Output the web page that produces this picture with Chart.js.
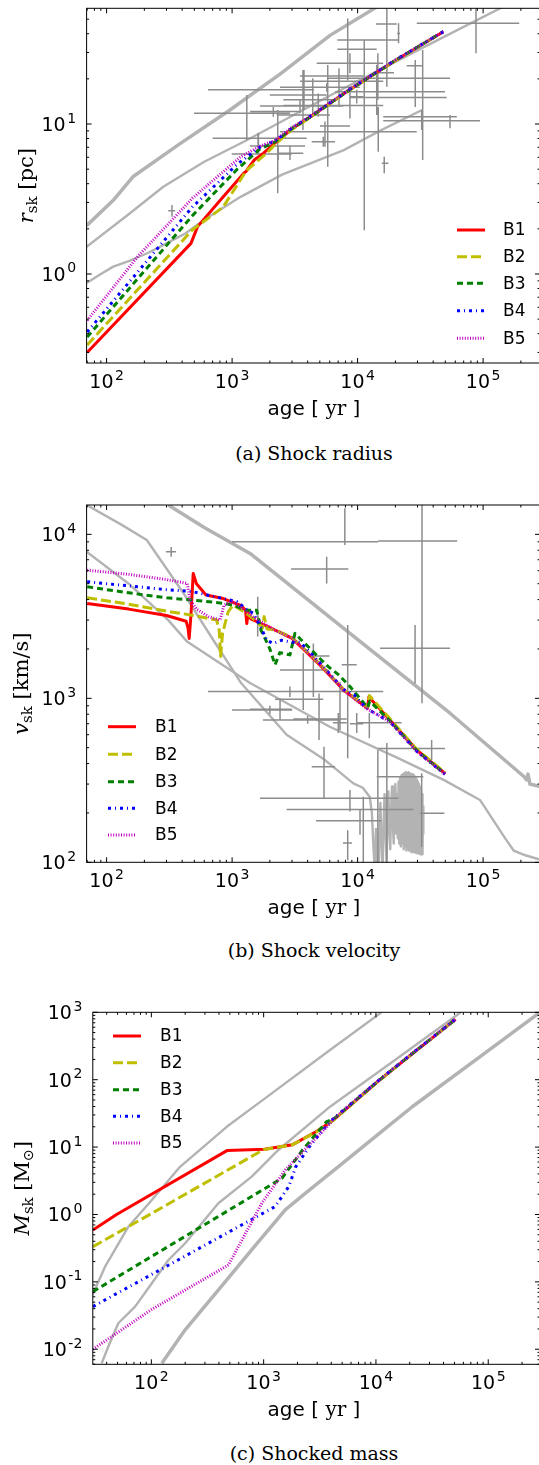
<!DOCTYPE html>
<html>
<head>
<meta charset="utf-8">
<title>Shock radius, velocity and mass</title>
<script src="https://cdn.jsdelivr.net/npm/chart.js@4.4.1/dist/chart.umd.min.js"></script>
<style>
  html, body { margin: 0; padding: 0; background: #fff; }
  body { position: relative; width: 539px; height: 1465px; overflow: hidden; }
  .panel { position: absolute; left: 0; }
  .panel canvas { display: block; }
  .caption { position: absolute; left: 0; width: 628px; text-align: center;
             font-family: "DejaVu Serif", serif; font-size: 19px; line-height: 24px; color: #000; }
</style>
</head>
<body>
<div class="panel" style="top:0px"><canvas id="radius" width="541" height="420"></canvas></div>
<div class="caption" style="top:441px">(a) Shock radius</div>
<div class="panel" style="top:489px"><canvas id="velocity" width="541" height="430"></canvas></div>
<div class="caption" style="top:938px">(b) Shock velocity</div>
<div class="panel" style="top:996px"><canvas id="mass" width="541" height="425"></canvas></div>
<div class="caption" style="top:1441px">(c) Shocked mass</div>

<script>
// ---- data: [age yr, value] ----
const runNames = ['B1', 'B2', 'B3', 'B4', 'B5'];
const xTickValues = [1e2, 1e3, 1e4, 1e5];

// (a) shock radius [pc]
const radiusB1 = [[70,0.30],[470,1.6],[531,2.07],[850,3.27],[1240,4.7],[1300,4.85],[1350,5.1],[1500,5.75],[1780,6.4],[2200,7.5],[3000,9.3],[4100,11.0],[8700,17.0],[20000,26.5],[48200,41.2]];
const radiusB2 = [[70,0.336],[480,1.96],[850,2.8],[1300,4.9],[1890,6.4],[2200,7.3],[3000,9.2],[4100,10.9],[8700,16.9],[20000,26.4],[48200,41.2]];
const radiusB3 = [[70,0.38],[483,2.45],[1100,5.0],[1660,6.8],[2200,7.6],[3000,9.35],[4100,11.0],[8700,17.0],[20000,26.6],[48200,41.3]];
const radiusB4 = [[70,0.41],[483,2.8],[1100,5.4],[1660,7.0],[2200,7.7],[3000,9.4],[4100,11.1],[8700,17.1],[20000,26.7],[48200,41.3]];
const radiusB5 = [[70,0.49],[176,1.3],[483,3.2],[1170,6.05],[1660,7.1],[2200,7.8],[3000,9.5],[4100,11.1],[8700,17.1],[20000,26.7],[48200,41.3]];
const radiusModelA = [[69.3,2.1],[113,3.1],[162,4.45],[385,7.4],[962,12.4],[1390,15.5],[2410,21.5],[6030,39],[15000,62]];
const radiusModelB = [[69.3,1.52],[150,2.5],[283,3.82],[600,5.6],[1306,7.8],[6030,15.5],[30000,31],[136000,59],[200000,70]];
const radiusModelC = [[69.3,0.87],[90,1.0],[113,1.12],[150,1.22],[213,1.38],[300,1.6],[427,1.87],[600,2.3],[1170,3.27],[2500,4.6],[7760,6.7],[15000,9.0],[32600,12.4]];
// observed remnants: [age, r, ageLo, ageHi, rLo, rHi]
const radiusObs = [
  [87800,46.9,29600,194000,29.6,62],[17100,46.4,14000,20500,17.7,62],[8340,36.3,6890,21100,19.6,50.6],
  [11300,31.5,6890,14200,1.96,36.3],[21200,40.2,20700,21800,34.5,46.9],[28800,24.5,24600,33400,13.0,26.7],
  [33000,20.2,5740,54500,5.75,31.1],[14500,22.0,13500,19500,14.5,29.6],[5780,19.3,3480,16000,5.19,24.7],
  [7110,16.4,6610,49700,13.0,23.5],[4390,15.6,2000,5670,11.2,20.2],[3740,20.9,3480,11100,12.4,22.9],
  [2310,11.5,2270,6030,3.45,12.4],[1620,7.13,1390,3810,6.38,8.67],[14200,15.0,8690,51300,11.5,24.7],
  [9840,15.2,8690,11100,13.7,16.9],[14600,8.89,2410,29600,6.54,13.0],[16300,5.47,15600,17600,4.69,6.05],
  [4860,14.5,2560,6820,11.2,16.0],[5500,9.7,5010,8690,7.06,10.4],[54500,10.5,16000,94400,9.36,11.5],
  [32400,11.2,16000,61700,9.12,12.4],[8690,25.4,4720,16000,21.8,29.6],[3480,13.2,1670,7690,11.8,14.5],
  [8690,13.3,2560,16000,10.9,16.9],[2130,12.1,1390,3480,11.2,13.0],[2890,6.38,2330,3690,5.75,7.06],
  [5330,7.62,4310,6610,7.06,8.23],[5680,17.6,2410,10400,16.4,18.7],[3670,16.9,643,4500,9.12,22.9],
  [1310,11.8,497,2890,7.82,15.6],[1610,8.03,700,3930,7.03,8.71],[2330,6.31,993,2990,5.75,7.06],
  [332,2.64,310,352,2.41,2.88]
];

// (b) shock velocity [km/s]
const velocityB1 = [[70,3790],[150,3500],[300,3200],[430,2950],[445,2700],[455,2320],[470,3200],[490,5780],[520,5000],[620,4270],[850,4060],[1170,3690],[1280,3450],[1310,2860],[1340,3350],[1410,3050],[2200,2610],[3010,2320],[5000,1600],[7760,1120],[12000,870],[12300,1020],[18100,738],[29600,484],[49700,349]];
const velocityB2 = [[70,4100],[150,3750],[300,3400],[500,3200],[753,3000],[790,2600],[810,1800],[840,2500],[930,3370],[1020,3700],[1300,3300],[1600,2900],[1750,2700],[1800,3150],[1900,2650],[2200,2620],[3010,2350],[5000,1620],[7760,1130],[12000,880],[12400,1040],[18100,750],[29600,490],[49700,352]];
const velocityB3 = [[70,4790],[150,4400],[300,4100],[480,3980],[850,3800],[1020,3700],[1300,3450],[1570,3450],[1700,2600],[1840,2300],[2000,2000],[2200,1600],[2400,1900],[2890,1840],[3170,2490],[3500,2300],[4030,2070],[5000,1750],[5840,1560],[7000,1400],[8690,1180],[12000,880],[12500,960],[18100,730],[29600,480],[49700,346]];
const velocityB4 = [[70,5140],[150,4850],[300,4600],[480,4480],[800,4100],[1090,3890],[1300,3500],[1470,3300],[1700,2700],[1890,2260],[2130,2160],[2480,2260],[3000,2200],[3480,2200],[5000,1650],[7760,1130],[9400,1050],[10500,950],[12000,860],[18100,720],[29600,475],[49700,344]];
const velocityB5 = [[70,6050],[150,5700],[300,5300],[440,5020],[460,4000],[520,3500],[650,3150],[800,3000],[830,3300],[860,3700],[1000,3900],[1300,3400],[1500,3100],[2200,2600],[3010,2330],[5000,1620],[7760,1120],[12000,860],[18100,720],[29600,475],[49700,345]];
const velocityModelA = [[310,15100],[600,11000],[1390,7650],[8690,2490],[54500,811],[210000,335],[222000,318],[228000,345],[236000,300],[284000,290]];
const velocityModelB = [[69.3,7830],[150,5000],[310,3000],[440,2210],[1390,1240],[6000,671],[20000,440],[48500,318],[94400,240],[150000,140],[175000,118],[220000,110],[284000,104]];
const velocityModelC = [[69.3,15100],[130,11500],[209,9230],[400,4500],[700,2300],[1170,1250],[2720,600],[5500,420],[9250,303],[11000,285],[12500,250],
  [13000,200],[13400,120],[13700,90],[14000,160],[14300,95],[14600,70],[14900,150],[15200,230],[15500,130],[15800,80],[16100,170],[16400,260],
  [16700,150],[17000,100],[17300,190],[17600,270],[17900,160],[18200,120],[18500,210],[18800,290],[19100,170],[19400,130],[19700,230],[20000,300],
  [20300,150],[20600,260],[20900,140],[21200,310],[21500,130],[21800,330],[22100,125],[22400,340],[22700,130],[23000,345],[23300,120],[23600,350],
  [23900,125],[24200,355],[24500,118],[24800,350],[25100,122],[25400,355],[25700,118],[26000,350],[26300,120],[26600,345],[26900,115],[27200,345],
  [27500,118],[27800,340],[28100,115],[28400,335],[28700,116],[29000,330],[29300,114],[29600,320],[29900,115],[30200,310],[30500,113],[30800,300],
  [31100,113],[31400,290],[31700,112],[32000,280],[32300,112],[32600,260],[32900,112],[33200,220],[33400,150]];
// observed remnants: [age, v, ageLo, ageHi, vLo, vHi]
const velocityObs = [
  [7910,9020,998,14600,8610,14450],[32600,9100,14600,62200,933,16000],[5670,6140,2950,8430,5020,7300],
  [8340,1600,7470,9840,431,2800],[28700,2020,15100,54500,1230,2800],[3690,1490,2410,5840,849,1880],
  [4440,1810,4310,5960,1020,2160],[7240,1100,2890,16000,641,1260],[3690,986,2200,5330,849,1180],
  [2410,857,1390,2980,738,978],[4930,747,3080,8190,557,1070],[7020,710,6370,8190,614,813],
  [9840,700,8690,11100,614,813],[12400,710,9840,22400,570,813],[17100,495,14600,49700,80,534],
  [14500,333,14200,33400,80,484],[5400,383,4310,6610,246,507],[8690,246,1670,21100,204,276],
  [11100,210,2720,27800,80,251],[10450,179,4660,15500,147,208],[32400,199,31400,49100,124,349],
  [38900,495,31400,48800,421,557],[8340,131,7650,9020,103,157],[327,7830,297,357,7300,8370],
  [1600,3130,1560,1640,2380,4170],[2890,1100,643,5490,1020,1180],[2000,849,998,3010,800,900],
  [4000,738,1760,7270,700,780]
];

// (c) shocked mass [Msun]
const massB1 = [[30.2,0.59],[49,1.0],[471,8.87],[1020,9.27],[1800,10.8],[2950,17.0],[4190,25.3],[10500,95],[21200,244],[51200,787]];
const massB2 = [[30.2,0.333],[100,1.03],[1000,9.2],[1800,10.8],[2950,16.8],[4190,25],[10500,95],[21200,244],[51200,787]];
const massB3 = [[30.2,0.0718],[100,0.237],[1455,3.44],[2220,9.06],[3640,23.9],[4190,26],[10500,96],[21200,246],[51200,790]];
const massB4 = [[30.2,0.043],[100,0.128],[1265,1.31],[1675,2.6],[1930,5.1],[2560,10.2],[3910,24],[4190,26.5],[10500,97],[21200,248],[51200,792]];
const massB5 = [[30.2,0.010],[100,0.0387],[486,0.178],[964,1.47],[1556,4.58],[2220,8.5],[3910,22.5],[4190,26],[10500,97],[21200,248],[51200,792]];
const massModelA = [[29.4,0.060],[38.7,0.168],[49.2,0.333],[62.4,0.659],[101,1.64],[180,5.1],[469,20],[1000,51],[3900,276],[11200,1000]];
const massModelB = [[36.1,0.0062],[41.4,0.011],[50.8,0.0243],[71.6,0.0429],[101,0.0953],[142,0.211],[200,0.374],[395,1.47],[783,3.64],[1352,9.06],[3900,39.8],[15000,200],[56900,1000]];
const massModelC = [[124,0.0062],[200,0.0194],[396,0.076],[785,0.30],[1556,1.17],[2345,2.06],[5000,5.7],[10000,14.5],[21200,40],[100000,270],[289000,1000]];

// ---- styles ----
const runStyles = [
  { color: '#ff0000', width: 3, dash: [] },
  { color: '#bfbf00', width: 3, dash: [10, 4] },
  { color: '#008000', width: 3, dash: [6, 4] },
  { color: '#0000ff', width: 3, dash: [3, 4, 1, 4] },
  { color: '#bf00bf', width: 3, dash: [1, 1.6] }
];
const SERIF = '"DejaVu Serif", serif';
const SANS = '"DejaVu Sans", sans-serif';

function curve(points, st, order) {
  return {
    data: points.map(([x, y]) => ({ x, y })),
    showLine: true, pointRadius: 0, borderColor: st.color, borderWidth: st.width,
    borderDash: st.dash || [], borderJoinStyle: 'round', tension: 0, order
  };
}

// each row gives one horizontal and one vertical segment, split by null points
function errorBars(rows, order) {
  const pts = [];
  rows.forEach(([x, y, xlo, xhi, ylo, yhi]) => {
    pts.push({ x: xlo, y }, { x: xhi, y }, { x: xhi, y: null },
             { x, y: ylo }, { x, y: yhi }, { x, y: null });
  });
  return { data: pts, showLine: true, spanGaps: false, pointRadius: 0,
           borderColor: '#8c8c8c', borderWidth: 1.5, order };
}

function logTicks(scale) {
  const out = [];
  for (let e = Math.floor(Math.log10(scale.min)); e <= Math.ceil(Math.log10(scale.max)); e++) {
    for (let m = 1; m < 10; m++) {
      const v = m * Math.pow(10, e);
      if (v >= scale.min * 0.999 && v <= scale.max * 1.001) out.push([v, m === 1]);
    }
  }
  return out;
}

// "10" with a raised exponent, like the mathtext labels of the original
function powLabel(ctx, v, x, baseline, align) {
  const e = String(Math.round(Math.log10(v)));
  ctx.font = `19px ${SANS}`;
  const wb = ctx.measureText('10').width;
  ctx.font = `14px ${SANS}`;
  const we = ctx.measureText(e).width;
  const total = wb + 1.5 + we;
  const left = align === 'center' ? x - total / 2 : x - total;
  ctx.font = `19px ${SANS}`;
  ctx.fillText('10', left, baseline);
  ctx.font = `14px ${SANS}`;
  ctx.fillText(e, left + wb + 1.5, baseline - 8.5);
}

function richText(ctx, parts, cx, cy, vertical) {
  ctx.save();
  ctx.translate(cx, cy);
  if (vertical) ctx.rotate(-Math.PI / 2);
  ctx.textBaseline = 'alphabetic';
  ctx.textAlign = 'left';
  ctx.fillStyle = '#000';
  let total = 0;
  parts.forEach(([t, f]) => { ctx.font = f; total += ctx.measureText(t).width; });
  let x = -total / 2;
  parts.forEach(([t, f, dy]) => {
    ctx.font = f;
    ctx.fillText(t, x, 7 + (dy || 0));
    x += ctx.measureText(t).width;
  });
  ctx.restore();
}

// frame, inward ticks, tick labels, axis titles and legend
function decoration(p) {
  return {
    id: 'decoration',
    afterDraw(chart) {
      const { ctx, chartArea: a, scales } = chart;
      ctx.save();
      ctx.strokeStyle = '#000';
      ctx.lineWidth = 1;
      ctx.beginPath();
      logTicks(scales.x).forEach(([v, major]) => {
        const px = scales.x.getPixelForValue(v);
        const len = major ? 5 : 2.5;
        ctx.moveTo(px, a.bottom); ctx.lineTo(px, a.bottom - len);
        ctx.moveTo(px, a.top); ctx.lineTo(px, a.top + len);
      });
      logTicks(scales.y).forEach(([v, major]) => {
        const py = scales.y.getPixelForValue(v);
        const len = major ? 5 : 2.5;
        ctx.moveTo(a.left, py); ctx.lineTo(a.left + len, py);
        ctx.moveTo(a.right, py); ctx.lineTo(a.right - len, py);
      });
      ctx.stroke();
      ctx.strokeRect(a.left, a.top, a.right - a.left, a.bottom - a.top);

      ctx.fillStyle = '#000';
      ctx.textAlign = 'left';
      ctx.textBaseline = 'alphabetic';
      xTickValues.forEach(v => powLabel(ctx, v, scales.x.getPixelForValue(v), a.bottom + 25, 'center'));
      p.yTicks.forEach(v => powLabel(ctx, v, a.left - 10.5, scales.y.getPixelForValue(v) + 7, 'right'));

      richText(ctx, [['age [ ', `20px ${SANS}`], ['yr', `20px ${SERIF}`], [' ]', `20px ${SANS}`]],
               314, a.bottom + 44.5, false);
      richText(ctx, p.yTitle, p.yTitleX, (a.top + a.bottom) / 2, true);

      const lg = p.legend;
      ctx.font = `17px ${SANS}`;
      ctx.textBaseline = 'middle';
      ctx.textAlign = 'left';
      lg.rows.forEach((yy, i) => {
        const st = runStyles[i];
        ctx.strokeStyle = st.color;
        ctx.lineWidth = st.width;
        ctx.setLineDash(st.dash);
        ctx.beginPath();
        ctx.moveTo(lg.x0, yy); ctx.lineTo(lg.x1, yy);
        ctx.stroke();
        ctx.setLineDash([]);
        ctx.fillStyle = '#000';
        ctx.fillText(runNames[i], lg.tx, yy + 1);
      });
      ctx.restore();
    }
  };
}

function buildPanel(id, p) {
  const datasets = [];
  p.runs.forEach((run, i) => datasets.push(curve(run, runStyles[i], 4 - i)));
  if (p.obs) datasets.push(errorBars(p.obs, 5));
  p.models.forEach((m, i) => datasets.push(curve(m, { color: '#b3b3b3', width: p.modelWidths[i] }, 6)));

  new Chart(document.getElementById(id), {
    type: 'scatter',
    data: { datasets },
    options: {
      responsive: false,
      animation: false,
      events: [],
      layout: { padding: { top: p.padTop, right: 1, left: 0, bottom: 0 } },
      plugins: { legend: { display: false }, tooltip: { enabled: false } },
      scales: {
        x: {
          type: 'logarithmic', position: 'bottom', min: p.xRange[0], max: p.xRange[1],
          grid: { display: false, drawTicks: false }, border: { display: false },
          afterBuildTicks: s => { s.ticks = xTickValues.map(v => ({ value: v })); },
          afterFit: s => { s.height = p.axisH; },
          ticks: { display: false }
        },
        y: {
          type: 'logarithmic', position: 'left', min: p.yRange[0], max: p.yRange[1],
          grid: { display: false, drawTicks: false }, border: { display: false },
          afterBuildTicks: s => { s.ticks = p.yTicks.map(v => ({ value: v })); },
          afterFit: s => { s.width = p.axisW; },
          ticks: { display: false }
        }
      }
    },
    plugins: [decoration(p)]
  });
}

buildPanel('radius', {
  runs: [radiusB1, radiusB2, radiusB3, radiusB4, radiusB5],
  obs: radiusObs,
  models: [radiusModelA, radiusModelB, radiusModelC], modelWidths: [3.5, 2.4, 2.4],
  xRange: [69.3, 2.84e5], yRange: [0.255, 59.1], yTicks: [1, 10],
  padTop: 8.3, axisH: 57, axisW: 86.6,
  yTitle: [['r', `italic 21px ${SERIF}`], ['sk', `15px ${SERIF}`, 4], [' [pc]', `21px ${SERIF}`]],
  yTitleX: 26,
  legend: { x0: 457, x1: 485, tx: 503, rows: [230, 256.7, 283.3, 310.7, 338.3] }
});

buildPanel('velocity', {
  runs: [velocityB1, velocityB2, velocityB3, velocityB4, velocityB5],
  obs: velocityObs,
  models: [velocityModelA, velocityModelB, velocityModelC], modelWidths: [3.5, 2.4, 2.4],
  xRange: [69.3, 2.84e5], yRange: [100, 15100], yTicks: [100, 1000, 10000],
  padTop: 16, axisH: 56.7, axisW: 86.6,
  yTitle: [['v', `italic 21px ${SERIF}`], ['sk', `15px ${SERIF}`, 4], [' [km/s]', `21px ${SERIF}`]],
  yTitleX: 21,
  legend: { x0: 108, x1: 136, tx: 155, rows: [237.7, 265.3, 292.7, 319.3, 346] }
});

buildPanel('mass', {
  runs: [massB1, massB2, massB3, massB4, massB5],
  obs: null,
  models: [massModelA, massModelB, massModelC], modelWidths: [2.4, 2.4, 3.5],
  xRange: [30.1, 2.89e5], yRange: [0.00598, 1000], yTicks: [0.01, 0.1, 1, 10, 100, 1000],
  padTop: 16.3, axisH: 56.7, axisW: 92.8,
  yTitle: [['M', `italic 21px ${SERIF}`], ['sk', `15px ${SERIF}`, 4], [' [M', `21px ${SERIF}`], ['\u2299', `14px ${SANS}`, 4], [']', `21px ${SERIF}`]],
  yTitleX: 22,
  legend: { x0: 113, x1: 141, tx: 160, rows: [40, 66.7, 93.7, 120.3, 147] }
});
</script>
</body>
</html>
